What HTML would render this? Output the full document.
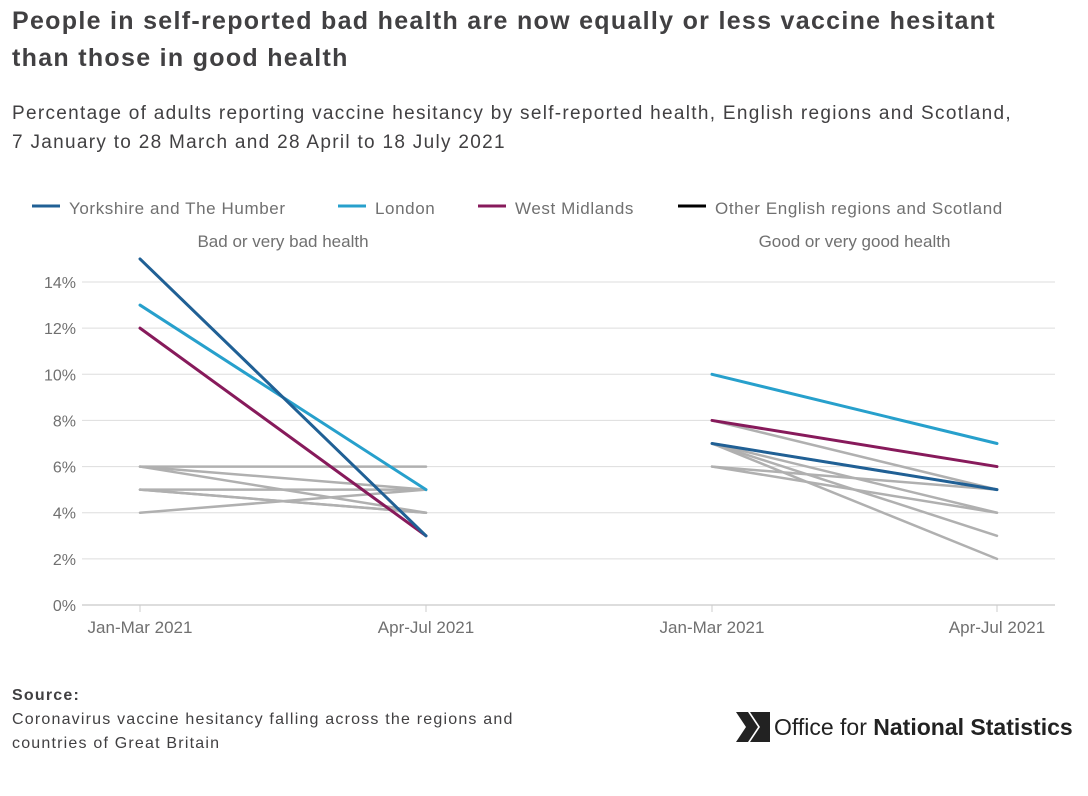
<!DOCTYPE html>
<html><head><meta charset="utf-8"><style>
body{margin:0;background:#fff;font-family:"Liberation Sans",sans-serif;}
#wrap{position:relative;width:1088px;height:796px;overflow:hidden}
h1{position:absolute;left:12px;top:3px;margin:0;font-size:25px;line-height:37px;color:#414042;font-weight:bold;width:1075px;letter-spacing:1.3px;white-space:nowrap}
.sub{position:absolute;left:12px;top:99px;font-size:19px;line-height:29px;color:#414042;width:1075px;letter-spacing:1.3px;white-space:nowrap}
.src{position:absolute;left:12px;top:684px;font-size:16px;line-height:24px;color:#414042;letter-spacing:1.2px}
.logo{position:absolute;left:736px;top:712px;font-size:23px;color:#222;display:flex;align-items:center}
</style></head><body><div id="wrap">
<h1>People in self-reported bad health are now equally or less vaccine hesitant<br>than those in good health</h1>
<div class="sub">Percentage of adults reporting vaccine hesitancy by self-reported health, English regions and Scotland,<br>7 January to 28 March and 28 April to 18 July 2021</div>
<svg id="chart" width="1088" height="660" style="position:absolute;left:0;top:0"></svg>
<div class="src"><b>Source:</b><br>Coronavirus vaccine hesitancy falling across the regions and<br>countries of Great Britain</div>
<div class="logo"><svg width="34" height="30" viewBox="0 0 34 30"><polygon points="0,0 12,0 22,15 12,30 0,30 10,15" fill="#222"/><polygon points="14,0 34,0 34,30 14,30 24,15" fill="#222"/></svg><span style="margin-left:4px">Office for <b>National Statistics</b></span></div>
<script>
const ticks=[0,2,4,6,8,10,12,14];
const periods=["Jan-Mar 2021","Apr-Jul 2021"];
const panels=["Bad or very bad health","Good or very good health"];
const seriesNames=["Yorkshire and The Humber","London","West Midlands","Other English regions and Scotland"];
const colors=["#206095","#27a0cc","#871a5b","#000000"];
const yorkBad=[15,3], londonBad=[13,5], wmBad=[12,3];
const yorkGood=[7,5], londonGood=[10,7], wmGood=[8,6];
const otherBad=[[6,6],[6,5],[6,4],[5,5],[5,4],[5,4],[4,5]];
const otherGood=[[8,5],[7,5],[7,4],[7,3],[7,2],[6,5],[6,4]];
const NS="http://www.w3.org/2000/svg",svg=document.getElementById('chart');
const y=v=>605-v*(323/14);
const px=[[140,426],[712,997]];
function el(t,a,txt){const e=document.createElementNS(NS,t);for(const k in a)e.setAttribute(k,a[k]);if(txt!=null)e.textContent=txt;svg.appendChild(e);return e;}
ticks.forEach(t=>{
 const g=el('line',{x1:82,x2:1055,y1:y(t),y2:y(t),stroke:t===0?'#bbb':'#ddd','stroke-width':1});
 
 
 const l=el('text',{x:76,y:y(t)+6,'text-anchor':'end','font-size':16,fill:'#707070'},t+'%');
 
 
});
px.forEach((p,i)=>{
 p.forEach((x,j)=>{
  el('line',{x1:x,x2:x,y1:605,y2:612,stroke:'#ccc'});
  const l=el('text',{x:x,y:633,'text-anchor':'middle','font-size':17,fill:'#707070'},periods[j]);
  
  
 });
 const h=el('text',{x:(p[0]+p[1])/2,y:247,'text-anchor':'middle','font-size':17,fill:'#707070'},panels[i]);
 
 
});
function line(v,panel,col,w,name){
 const p=px[panel];
 const l=el('line',{x1:p[0],y1:y(v[0]),x2:p[1],y2:y(v[1]),stroke:col,'stroke-width':w,'stroke-linecap':'round'});
 
 
}
otherBad.forEach(v=>line(v,0,'#b0b0b0',2.5,'other-region-line'));
otherGood.forEach(v=>line(v,1,'#b0b0b0',2.5,'other-region-line'));
line(wmBad,0,colors[2],3,'west-midlands-line');line(londonBad,0,colors[1],3,'london-line');line(yorkBad,0,colors[0],3,'yorkshire-line');
line(wmGood,1,colors[2],3,'west-midlands-line');line(londonGood,1,colors[1],3,'london-line');line(yorkGood,1,colors[0],3,'yorkshire-line');
const lx=[32,338,478,678];
seriesNames.forEach((n,i)=>{
 const s=el('line',{x1:lx[i],x2:lx[i]+28,y1:206,y2:206,stroke:colors[i],'stroke-width':3});
 
 
 const t=el('text',{x:lx[i]+37,y:214,'font-size':17,fill:'#707070','letter-spacing':0.6},n);
 
 
});
</script></div></body></html>
